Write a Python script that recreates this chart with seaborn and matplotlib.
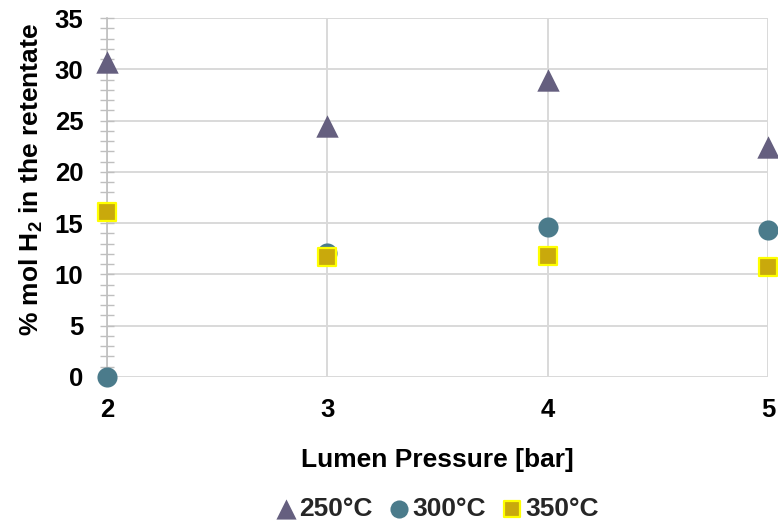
import matplotlib
matplotlib.use("Agg")
import matplotlib.pyplot as plt
import seaborn as sns
import pandas as pd
from matplotlib.ticker import MultipleLocator

# Lumen pressure levels [bar]
pressure = [2, 3, 4, 5]
# % mol H2 in the retentate at each temperature
h2_250 = [30.7, 24.5, 29.0, 22.4]
h2_300 = [0.0, 12.1, 14.6, 14.3]
h2_350 = [16.1, 11.7, 11.8, 10.7]
temps = ["250°C", "300°C", "350°C"]

df = pd.DataFrame({
    "pressure": pressure * 3,
    "h2": h2_250 + h2_300 + h2_350,
    "temp": [temps[0]] * 4 + [temps[1]] * 4 + [temps[2]] * 4,
})

sns.set_theme(style="white")
plt.rcParams["font.family"] = ["Liberation Sans", "DejaVu Sans"]
plt.rcParams["mathtext.fontset"] = "custom"
plt.rcParams["mathtext.rm"] = "Liberation Sans"
plt.rcParams["mathtext.bf"] = "Liberation Sans:bold"

fig = plt.figure(figsize=(7.78, 5.22), dpi=100)
ax = fig.add_axes([107 / 778, 1 - 377 / 522, 661 / 778, 359 / 522])

styles = {
    "250°C": dict(marker="^", s=260, color="#655F7F", edgecolor="#655F7F", linewidth=0),
    "300°C": dict(marker="o", s=210, color="#4B7B8B", edgecolor="#4B7B8B", linewidth=0),
    "350°C": dict(marker="s", s=175, color="#C9A90C", edgecolor="#FFFF00", linewidth=1.6),
}
for t in temps:
    sub = df[df["temp"] == t]
    sns.scatterplot(data=sub, x="pressure", y="h2", ax=ax, label=t,
                    clip_on=False, zorder=5, **styles[t])

ax.set_xlim(2, 5)
ax.set_ylim(0, 35)
ax.set_xticks(pressure)
ax.yaxis.set_major_locator(MultipleLocator(5))
ax.yaxis.set_minor_locator(MultipleLocator(1))

ax.grid(True, which="major", color="#D9D9D9", linewidth=1.4)
ax.set_axisbelow(True)
for side in ["top", "right", "bottom"]:
    ax.spines[side].set_visible(False)
ax.spines["left"].set_color("#BFBFBF")
ax.spines["left"].set_linewidth(1.2)

ax.tick_params(axis="y", which="both", direction="inout", color="#BFBFBF",
               width=1.0, left=True)
ax.tick_params(axis="y", which="major", length=10, pad=12)
ax.tick_params(axis="y", which="minor", length=10)
ax.tick_params(axis="x", which="both", length=0, pad=15)

for lab in ax.get_xticklabels() + ax.get_yticklabels():
    lab.set_fontsize(18.5)
    lab.set_fontweight("bold")
    lab.set_color("black")

ax.set_xlabel("Lumen Pressure [bar]", fontsize=19, fontweight="bold",
              color="black", labelpad=19)
ax.set_ylabel(r"% mol H$_{\mathbf{2}}$ in the retentate", fontsize=19,
              fontweight="bold", color="black")
ax.yaxis.set_label_coords((45 - 107) / 661, (377 - 180) / 359)

handles, labels = ax.get_legend_handles_labels()
ax.get_legend().remove()
fig.legend(handles, labels, loc="center", bbox_to_anchor=(437 / 778, 1 - 509 / 522),
           ncol=3, frameon=False, handletextpad=0.1, columnspacing=0.6,
           handlelength=0.8, prop={"weight": "bold", "size": 19}, markerscale=0.9)

fig.savefig("out.png", dpi=100)
